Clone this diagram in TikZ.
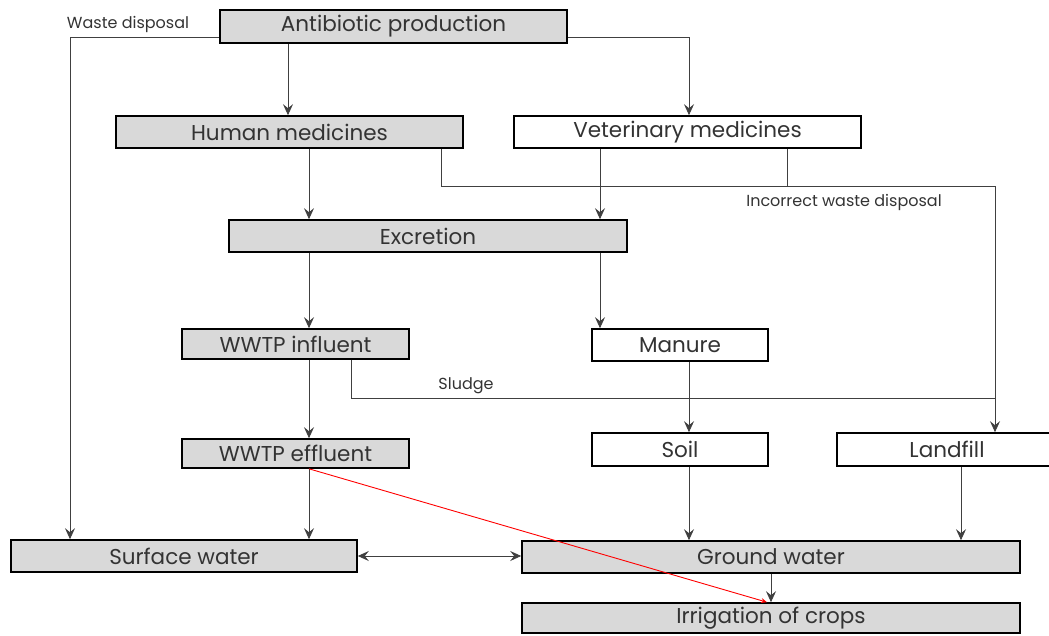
\documentclass[tikz,border=0pt]{standalone}
\usepackage{fontspec}
\setmainfont{Poppins}
\usetikzlibrary{arrows.meta}
\tikzset{
  box/.style={draw=black, line width=1.6pt, inner sep=0pt, font=\fontsize{21.5}{24}\selectfont, text=black!80},
  gbox/.style={box, fill=black!15},
  wbox/.style={box, fill=white},
  conn/.style={draw=black!75, line width=0.9pt},
  arr/.style={conn, -{Stealth[length=11pt,width=10pt,inset=4pt]}},
  darr/.style={conn, {Stealth[length=11pt,width=10pt,inset=4pt]}-{Stealth[length=11pt,width=10pt,inset=4pt]}},
  redarr/.style={draw=red, line width=0.9pt, -{Stealth[length=6pt,width=5pt]}},
  lab/.style={font=\fontsize{16}{18}\selectfont, text=black!80, inner sep=1pt}
}
\begin{document}
\begin{tikzpicture}[x=1pt,y=-1pt]
\useasboundingbox (0,0) rectangle (1049,635);
\clip (0,0) rectangle (1049,635);
% boxes
\node[gbox, minimum width=347, minimum height=33] (anti) at (393.5,26.5) {Antibiotic production};
\node[gbox, minimum width=347, minimum height=32] (hum) at (289.5,132) {Human medicines};
\node[wbox, minimum width=347, minimum height=32] (vet) at (687.5,132) {Veterinary medicines};
\node[gbox, minimum width=398, minimum height=32] (exc) at (428,236) {Excretion};
\node[gbox, minimum width=227, minimum height=30] (inf) at (295.5,344) {WWTP influent};
\node[wbox, minimum width=176, minimum height=32] (man) at (680,345) {Manure};
\node[gbox, minimum width=227, minimum height=29] (eff) at (295.5,453.5) {WWTP effluent};
\node[wbox, minimum width=176, minimum height=33] (soil) at (680,449.5) {Soil};
\node[wbox, minimum width=230, minimum height=33] (land) at (952,449.5) {};
\node[text=black!80, font=\fontsize{21.5}{24}\selectfont, inner sep=0pt] (landt) at (947,449.5) {Landfill};
\node[gbox, minimum width=346, minimum height=32] (surf) at (184,556) {Surface water};
\node[gbox, minimum width=498, minimum height=32] (gw) at (771,557) {Ground water};
\node[gbox, minimum width=498, minimum height=30] (irr) at (771,618) {Irrigation of crops};
% labels
\node[lab] (wd) at (128,24) {Waste disposal};
\node[lab] (iwd) at (844,202) {Incorrect waste disposal};
\node[lab] (sl) at (466,386) {Sludge};
% connectors
\draw[arr] (288,0 |- anti.south) -- (288,0 |- hum.north);
\draw[arr] (anti.east |- 0,37) -| (689,0 |- vet.north);
\draw[arr] (anti.west |- 0,37) -| (70,0 |- surf.north);
\draw[arr] (309,0 |- hum.south) -- (309,0 |- exc.north);
\draw[arr] (600,0 |- vet.south) -- (600,0 |- exc.north);
\coordinate (iw) at (995,186);
\draw[arr] (441,0 |- hum.south) |- (iw) -- (995,0 |- land.north);
\draw[conn] (787,0 |- vet.south) -- (787,0 |- iw);
\draw[arr] (309,0 |- exc.south) -- (309,0 |- inf.north);
\draw[arr] (600,0 |- exc.south) -- (600,0 |- man.north);
\draw[arr] (309,0 |- inf.south) -- (309,0 |- eff.north);
\draw[conn] (351,0 |- inf.south) |- (995,398);
\draw[arr] (689,0 |- man.south) -- (689,0 |- soil.north);
\draw[arr] (309,0 |- eff.south) -- (309,0 |- surf.north);
\draw[arr] (689,0 |- soil.south) -- (689,0 |- gw.north);
\draw[arr] (961,0 |- land.south) -- (961,0 |- gw.north);
\draw[darr] (surf.east) -- (surf.east -| gw.west);
\draw[arr] (771,0 |- gw.south) -- (771,0 |- irr.north);
\draw[redarr] (309,0 |- eff.south) -- (767,0 |- irr.north);
\end{tikzpicture}
\end{document}
